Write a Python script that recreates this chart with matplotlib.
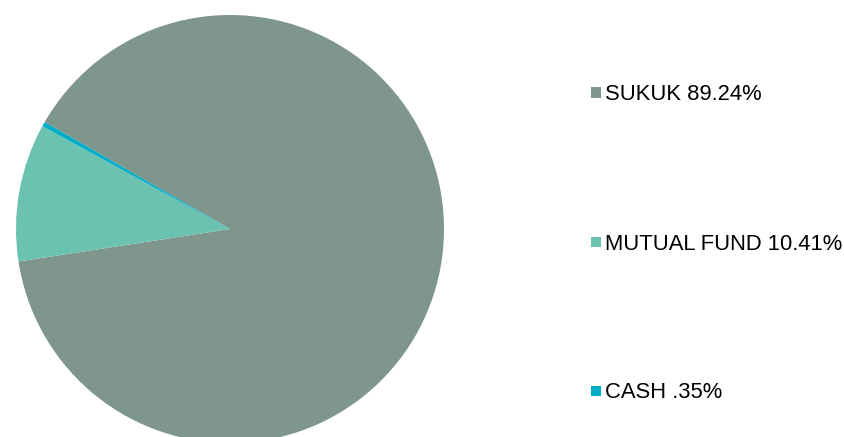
import matplotlib
matplotlib.use("Agg")
import matplotlib.pyplot as plt
from matplotlib.patches import Rectangle

labels = ["SUKUK 89.24%", "MUTUAL FUND 10.41%", "CASH .35%"]
values = [89.24, 10.41, 0.35]
colors = ["#7F968C", "#6BC2B0", "#00ADC9"]

W, H = 845, 437
fig = plt.figure(figsize=(W / 100, H / 100), dpi=100)

# pie axes: center (230, 229) px from top, radius 214 px
cx, cy, r = 230, 229, 214
ax = fig.add_axes([(cx - r) / W, (H - cy - r) / H, 2 * r / W, 2 * r / H])
ax.pie(values, colors=colors, startangle=150, counterclock=False,
       radius=1.0, wedgeprops=dict(linewidth=0))
ax.set_xlim(-1, 1)
ax.set_ylim(-1, 1)
ax.set_aspect("equal")
ax.axis("off")

# legend
rows_y = [92.5, 241.5, 390.5]
for lab, col, yy in zip(labels, colors, rows_y):
    fig.add_artist(Rectangle(((591) / W, (H - yy - 5) / H), 10 / W, 10 / H,
                             transform=fig.transFigure, facecolor=col,
                             edgecolor="none"))
    fig.text(605 / W, (H - yy) / H, lab, fontsize=15.8,
             family="Liberation Sans", va="center_baseline", ha="left",
             color="#000000")

fig.savefig("out.png", dpi=100)
